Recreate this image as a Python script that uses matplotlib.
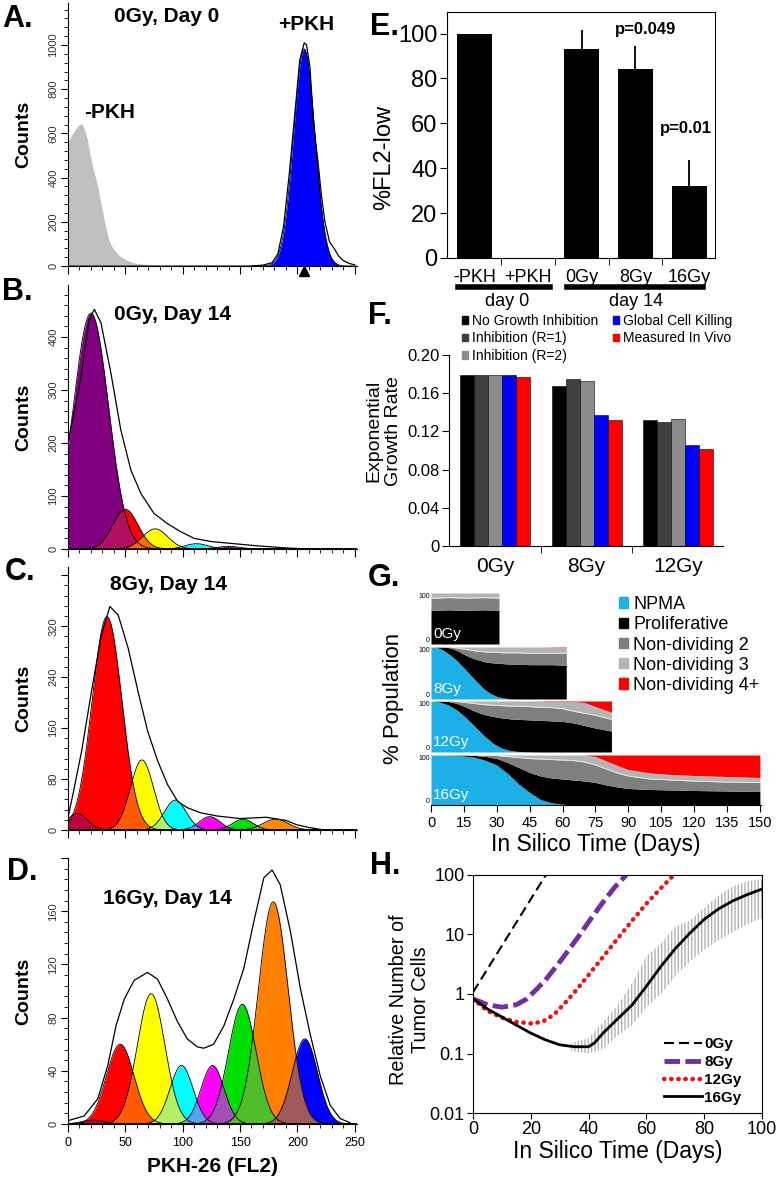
import numpy as np
import matplotlib.pyplot as plt
from matplotlib.lines import Line2D
from matplotlib.patches import Patch
from matplotlib.ticker import MultipleLocator

plt.rcParams['font.family'] = ['Liberation Sans', 'DejaVu Sans']

# ---------------- data ----------------
# A: 0Gy, day 0 (gray = unstained, blue = stained)
a_neg_x = [0, 3, 6, 9, 12, 15, 17, 19, 21.5, 24, 26, 28, 30, 32, 34, 36, 38, 40, 43, 46, 50, 55, 60, 70, 80, 100, 130]
a_neg_y = [560, 590, 615, 635, 645, 610, 570, 510, 450, 400, 360, 300, 250, 195, 150, 115, 90, 75, 56, 42, 30, 18, 12, 6, 3, 1, 0]
a_pos_peak = [(206, 982, 9.3)]
a_pos_x = [160, 170, 178, 183, 188, 193, 198, 202, 206, 208, 211, 214, 218, 221, 224, 228, 232, 236, 240, 245, 250]
a_pos_y = [0, 4, 15, 55, 180, 420, 700, 930, 1010, 1000, 900, 650, 470, 320, 200, 110, 80, 45, 25, 12, 5]

# B-D: generation peaks (center, height, width) and measured envelope
b_peaks = [(20, 445, 15.3), (50, 75, 11), (76, 38, 11), (112, 10, 10), (140, 5, 10)]
b_colors = ['#800080', '#ff0000', '#ffff00', '#00ffff', '#5b1a7b']
b_mix = ['#b0105e', '#ff6a00', '#b4f064', '#3c64b4']
b_env_x = [0, 11, 18.5, 23, 28.7, 37.4, 46, 54.8, 63.5, 75, 86.6, 98, 110, 125, 145, 165, 190, 210]
b_env_y = [200, 320, 433, 452, 427, 332, 225, 149, 105, 67, 48, 33, 20, 14, 10, 6, 2, 0]

c_peaks = [(8, 26, 9), (34, 335, 13), (64.5, 110, 10), (93.5, 47, 9.5), (123.5, 21, 9), (152.5, 17, 9), (181, 17, 11)]
c_colors = ['#9a0a5a', '#ff0000', '#ffff00', '#00ffff', '#ff00ff', '#00e000', '#ff8c00']
c_mix = ['#c00040', '#ff5a00', '#b4f064', '#5aa0f0', '#a050b4', '#50be28']
c_env_x = [0, 4.3, 11.9, 20.5, 29.2, 36.5, 43.7, 52.4, 61, 69.5, 78.3, 86.9, 95.6, 104, 115.6, 130, 150, 173, 190, 200, 210, 220]
c_env_y = [20, 56, 124, 218, 307, 351, 338, 286, 218, 155, 108, 71, 45, 35, 27, 22, 18, 20, 15, 8, 4, 1]

d_peaks = [(22, 3, 10), (45.5, 60, 12), (72.5, 98, 12), (99, 44, 10), (126, 44, 10), (152, 90, 12), (179, 167, 13), (206.5, 64, 11)]
d_colors = ['#800080', '#ff0000', '#ffff00', '#00ffff', '#ff00ff', '#00e000', '#ff8000', '#0000ff']
d_mix = ['#c00040', '#ff5a00', '#b4f064', '#5aa0f0', '#a050b4', '#50be28', '#a05a5a']
d_env_x = [0, 14, 26, 34.7, 41.9, 49.1, 57.7, 69.3, 78, 86.7, 95.4, 104, 112.7, 118.5, 127, 136, 144.6, 153.3, 162, 170.7, 178, 185, 193.9, 202.6, 211.3, 220, 228.7, 237.4, 246]
d_env_y = [2.5, 6, 19, 44, 74, 94, 108, 114, 109, 94, 77, 64, 58, 57, 60, 74, 94, 117, 152, 185, 191, 180, 145, 102, 67, 36, 14, 4, 1]

# E: %FL2-low
e_groups = ['-PKH', '+PKH', '0Gy', '8Gy', '16Gy']
e_vals = [100, 0, 93.3, 84.1, 32.1]
e_err = [0, 0, 8.2, 10.4, 11.6]

# F: exponential growth rate
f_doses = ['0Gy', '8Gy', '12Gy']
f_models = ['No Growth Inhibition', 'Inhibition (R=1)', 'Inhibition (R=2)', 'Global Cell Killing', 'Measured In Vivo']
f_colors = ['#000000', '#404040', '#8c8c8c', '#0000ff', '#ff0000']
f_no_inhib = [0.179, 0.168, 0.132]
f_inhib_r1 = [0.179, 0.1746, 0.1297]
f_inhib_r2 = [0.179, 0.1725, 0.1328]
f_global = [0.179, 0.137, 0.1056]
f_vivo = [0.177, 0.132, 0.102]

# G: population fractions (cumulative tops, %)
g_days_0 = [0, 8, 16, 24, 31]
g_npma_0 = [0, 0, 0, 0, 0]
g_prolif_0 = [66, 67, 66, 67, 66]
g_nd2_0 = [90, 91, 90, 91, 90]
g_nd3_0 = [100, 100, 100, 100, 100]

g_days_8 = [0, 3, 6, 9, 12, 15, 18, 21, 24, 27, 30, 33, 36, 40, 45, 50, 55, 61.7]
g_npma_8 = [100, 99, 93, 84, 73, 60, 46, 33, 20, 11, 5, 2, 0.5, 0, 0, 0, 0, 0]
g_prolif_8 = [100, 100, 100, 98, 93, 86, 80, 76, 72, 70, 69, 68, 67, 67, 66, 66, 66, 65]
g_nd2_8 = [100, 100, 100, 100, 98, 96, 94, 92, 91, 90, 90, 89, 89, 89, 88, 88, 88, 88]
g_nd3_8 = [100, 100, 100, 100, 100, 100, 100, 100, 100, 100, 100, 100, 100, 100, 100, 100, 99.5, 99]

g_days_12 = [0, 4, 8, 12, 16, 20, 24, 28, 32, 36, 40, 45, 50, 55, 60, 65, 70, 75, 82.3]
g_npma_12 = [100, 98, 92, 82, 67, 50, 33, 18, 8, 3, 1, 0.3, 0, 0, 0, 0, 0, 0, 0]
g_prolif_12 = [100, 100, 99, 95, 88, 80, 74, 70, 67, 65, 64, 63, 62, 61, 60, 57, 52, 47, 41]
g_nd2_12 = [100, 100, 100, 99, 97, 95, 93, 92, 91, 90, 90, 89, 88, 87, 85, 80, 76, 72, 64]
g_nd3_12 = [100, 100, 100, 100, 100, 100, 100, 100, 100, 100, 100, 100, 99.5, 99, 99, 99, 97, 89, 78]

g_days_16 = [0, 10, 15, 20, 25, 30, 35, 40, 45, 50, 55, 60, 65, 70, 75, 80, 85, 90, 100, 110, 120, 135, 150]
g_npma_16 = [100, 99.5, 98, 95.5, 89, 80, 63, 42, 25, 11, 4.5, 1.5, 0.5, 0, 0, 0, 0, 0, 0, 0, 0, 0, 0]
g_prolif_16 = [100, 100, 100, 99, 97, 93, 85, 75, 65, 58, 54, 52, 50, 48, 45, 40, 36, 33, 31, 30, 29, 28, 27]
g_nd2_16 = [100, 100, 100, 100, 99.5, 99, 97, 95, 93, 92, 91, 90, 89, 86, 80, 72, 64, 58, 52, 50, 48, 46, 45]
g_nd3_16 = [100, 100, 100, 100, 100, 100, 100, 100, 100, 100, 100, 100, 100, 100, 97, 88, 79, 71, 64, 61, 59, 57, 55]

# H: relative number of tumor cells
h_days_0 = [0, 25.2]
h_cells_0 = [1.07, 100]
h_days_8 = [0, 5, 10, 15, 18.5, 22, 25, 28, 31, 34, 37, 41, 45, 49, 53]
h_cells_8 = [0.83, 0.66, 0.60, 0.66, 0.82, 1.2, 1.7, 2.6, 4.0, 6.3, 10, 19, 35, 62, 100]
h_days_12 = [0, 5, 10, 15, 20, 24, 28, 32, 36, 40, 45, 50, 55, 60, 65, 69.5]
h_cells_12 = [0.83, 0.52, 0.40, 0.34, 0.32, 0.34, 0.45, 0.72, 1.2, 2.1, 4.2, 8.5, 17, 33, 60, 100]
h_days_16 = [0, 5, 10, 15, 20, 25, 30, 35, 40, 42, 45, 50, 55, 60, 65, 70, 75, 80, 85, 90, 95, 100]
h_cells_16 = [0.83, 0.56, 0.41, 0.30, 0.22, 0.17, 0.14, 0.13, 0.13, 0.15, 0.22, 0.38, 0.65, 1.35, 2.9, 5.8, 10.5, 18, 27, 37, 47, 58]
h_err_days = [34, 40, 45, 50, 55, 60, 65, 70, 75, 80, 85, 90, 95, 100]
h_err_lo = [0.11, 0.10, 0.12, 0.2, 0.3, 0.6, 1.0, 2.0, 3.5, 5.6, 8, 11, 15, 19]
h_err_hi = [0.15, 0.18, 0.34, 0.64, 1.5, 4.3, 7, 13.5, 17, 28, 45, 65, 78, 86]

# ---------------- figure ----------------
W, H = 778, 1180
fig = plt.figure(figsize=(W / 100, H / 100), dpi=100)


def box(left, top, right, bottom):
    return fig.add_axes([left / W, 1 - bottom / H, (right - left) / W, (bottom - top) / H])


def ftxt(x, y, s, **kw):
    kw.setdefault('ha', 'center')
    kw.setdefault('va', 'center')
    fig.text(x / W, 1 - y / H, s, **kw)


def fline(x0, x1, y, lw):
    fig.add_artist(Line2D([x0 / W, x1 / W], [1 - y / H, 1 - y / H], color='k', lw=lw))


grid = np.linspace(0, 252, 1200)


def peak(c, h, s):
    return h * np.exp(-0.5 * ((grid - c) / s) ** 2)


def style_hist(ax, ymax, major, minor, labels, show_x=False):
    ax.set_xlim(0, 252)
    ax.set_ylim(0, ymax)
    for s in ['top', 'right']:
        ax.spines[s].set_visible(False)
    ax.xaxis.set_major_locator(MultipleLocator(50))
    ax.xaxis.set_minor_locator(MultipleLocator(10))
    ax.set_yticks([major * i for i in range(len(labels))])
    ax.set_yticklabels(labels)
    ax.yaxis.set_minor_locator(MultipleLocator(minor))
    ax.tick_params(axis='y', which='major', length=5, labelsize=8, labelcolor='#333333', pad=2)
    ax.tick_params(axis='y', which='minor', length=3)
    ax.tick_params(axis='x', which='major', length=6, labelsize=9, pad=3)
    ax.tick_params(axis='x', which='minor', length=3)
    plt.setp(ax.get_yticklabels(), rotation=90, va='center')
    if not show_x:
        ax.set_xticklabels([])
    ax.set_ylabel('Counts', fontsize=14, fontweight='bold')
    ax.yaxis.set_label_coords(-0.125, 0.5)


def draw_peaks(ax, peaks, colors, mixes, env_x, env_y):
    curves = [peak(*p) for p in peaks]
    for g, col in zip(curves, colors):
        ax.fill_between(grid, 0, g, color=col, lw=0)
    for g1, g2, col in zip(curves[:-1], curves[1:], mixes):
        ax.fill_between(grid, 0, np.minimum(g1, g2), color=col, lw=0)
    for g in curves:
        ax.plot(grid, g, color='k', lw=0.6)
    ax.plot(env_x, env_y, color='k', lw=0.9)


# A
ax_a = box(68, 3, 357, 266)
ax_a.fill_between(a_neg_x, 0, a_neg_y, color='#c0c0c0', lw=0)
draw_peaks(ax_a, a_pos_peak, ['#0000ff'], [], a_pos_x, a_pos_y)
style_hist(ax_a, 1190, 200, 40, ['0', '200', '400', '600', '800', '1000'])
ax_a.plot([206], [-0.02], marker='^', color='k', ms=7, transform=ax_a.get_xaxis_transform(), clip_on=False)
ftxt(167, 17, '0Gy, Day 0', fontsize=15, fontweight='bold')
ftxt(306, 25, '+PKH', fontsize=15, fontweight='bold')
ftxt(110, 113, '-PKH', fontsize=15, fontweight='bold')

# B
ax_b = box(68, 285, 357, 549)
draw_peaks(ax_b, b_peaks, b_colors, b_mix, b_env_x, b_env_y)
style_hist(ax_b, 498, 100, 20, ['0', '100', '200', '300', '400'])
ftxt(173, 315, '0Gy, Day 14', fontsize=15, fontweight='bold')

# C
ax_c = box(68, 567, 357, 830)
draw_peaks(ax_c, c_peaks, c_colors, c_mix, c_env_x, c_env_y)
style_hist(ax_c, 413, 80, 16, ['0', '80', '160', '240', '320', ''])
ftxt(168, 585, '8Gy, Day 14', fontsize=15, fontweight='bold')

# D
ax_d = box(68, 858, 357, 1124)
draw_peaks(ax_d, d_peaks, d_colors, d_mix, d_env_x, d_env_y)
style_hist(ax_d, 200, 40, 8, ['0', '40', '80', '120', '160', ''], show_x=True)
ftxt(167, 898, '16Gy, Day 14', fontsize=15, fontweight='bold')
ax_d.set_xlabel('PKH-26 (FL2)', fontsize=15, fontweight='bold', labelpad=6)

# E
ax_e = box(447, 12, 715, 258)
xe = np.arange(len(e_groups))
ax_e.bar(xe, e_vals, width=0.65, color='k')
ax_e.errorbar(xe, e_vals, yerr=[np.zeros(len(e_err)), e_err], fmt='none', ecolor='k', elinewidth=1.3, capsize=0)
ax_e.set_xlim(-0.507, 4.48)
ax_e.set_ylim(0, 109.6)
ax_e.set_xticks(xe)
ax_e.set_xticklabels(e_groups)
ax_e.set_xticks([0.5, 1.5, 2.5, 3.5], minor=True)
ax_e.set_yticks(range(0, 101, 20))
ax_e.tick_params(axis='x', which='major', length=0, labelsize=13, pad=8)
ax_e.tick_params(axis='x', which='minor', length=5)
ax_e.tick_params(axis='y', length=5, labelsize=17, pad=2)
ax_e.text(3.18, 102, 'p=0.049', fontsize=12, fontweight='bold', ha='center', va='center')
ax_e.text(3.94, 57.8, 'p=0.01', fontsize=12, fontweight='bold', ha='center', va='center')
ftxt(384, 158, '%FL2-low', fontsize=17, rotation=90)
fline(458, 550, 287, 4)
fline(567, 703, 287, 4)
ftxt(507, 301, 'day 0', fontsize=13)
ftxt(636, 301, 'day 14', fontsize=13)

# F
ax_f = box(449, 355, 723, 546)
xf = np.arange(len(f_doses))
f_series = [f_no_inhib, f_inhib_r1, f_inhib_r2, f_global, f_vivo]
bw = 0.154
for i, (vals, col, name) in enumerate(zip(f_series, f_colors, f_models)):
    ax_f.bar(xf + (i - 2) * bw, vals, width=bw, color=col, edgecolor='k', lw=0.4, label=name)
ax_f.set_xlim(-0.506, 2.49)
ax_f.set_ylim(0, 0.2)
ax_f.set_xticks(xf)
ax_f.set_xticklabels(f_doses)
ax_f.set_xticks([0.5, 1.5], minor=True)
ax_f.set_yticks([0, 0.04, 0.08, 0.12, 0.16, 0.20])
ax_f.set_yticklabels(['0', '0.04', '0.08', '0.12', '0.16', '0.20'])
ax_f.tick_params(axis='x', which='major', length=0, labelsize=15, pad=8)
ax_f.tick_params(axis='x', which='minor', length=5)
ax_f.tick_params(axis='y', length=5, labelsize=12, pad=2)
for s in ['top', 'right']:
    ax_f.spines[s].set_visible(False)
fig.legend(handles=[Patch(color=c) for c in f_colors], labels=f_models, loc='upper left',
           bbox_to_anchor=(462 / W, 1 - 314 / H), ncol=2, frameon=False, fontsize=10,
           handlelength=0.45, handleheight=0.45, handletextpad=0.3, labelspacing=0.25,
           columnspacing=1.0, borderpad=0, borderaxespad=0)
ftxt(384, 431, 'Exponential\nGrowth Rate', fontsize=14, rotation=90, linespacing=1.2)

# G
c_npma, c_nd2, c_nd3 = '#1cb0e6', '#7f7f7f', '#b4b4b4'
g_rows = [
    ('0Gy', (593, 644), g_days_0, g_npma_0, g_prolif_0, g_nd2_0, g_nd3_0),
    ('8Gy', (647, 699), g_days_8, g_npma_8, g_prolif_8, g_nd2_8, g_nd3_8),
    ('12Gy', (701, 752), g_days_12, g_npma_12, g_prolif_12, g_nd2_12, g_nd3_12),
    ('16Gy', (755, 805), g_days_16, g_npma_16, g_prolif_16, g_nd2_16, g_nd3_16),
]
for k, (lab, (top, bot), d, npma, prol, nd2, nd3) in enumerate(g_rows):
    ax = box(431, top, 761, bot)
    ax.fill_between(d, 0, npma, color=c_npma, lw=0)
    ax.fill_between(d, npma, prol, color='k', lw=0)
    ax.fill_between(d, prol, nd2, color=c_nd2, lw=0)
    ax.fill_between(d, nd2, nd3, color=c_nd3, lw=0)
    ax.fill_between(d, nd3, 100, color='#ff0000', lw=0)
    ax.plot(d, nd2, color='#e8e8e8', lw=0.7)
    ax.set_xlim(0, 150.5)
    ax.set_ylim(0, 100)
    ax.set_yticks([0, 100])
    ax.set_yticklabels(['0', '100'])
    ax.tick_params(axis='y', length=0, labelsize=5, pad=1)
    lo_lab, hi_lab = ax.get_yticklabels()
    lo_lab.set_va('bottom')
    hi_lab.set_va('top')
    for s in ['top', 'right', 'left', 'bottom']:
        ax.spines[s].set_visible(False)
    ax.text(0.006, 0.06, lab, color='white', fontsize=11, transform=ax.transAxes, va='bottom')
    if k < 3:
        ax.set_xticks([])
    else:
        ax.spines['bottom'].set_visible(True)
        ax.set_xticks(range(0, 151, 15))
        ax.tick_params(axis='x', length=5, labelsize=10.5, pad=3)
        ax.set_xlabel('In Silico Time (Days)', fontsize=16.5, labelpad=2)
g_labels = ['NPMA', 'Proliferative', 'Non-dividing 2', 'Non-dividing 3', 'Non-dividing 4+']
fig.legend(handles=[Patch(color=c) for c in [c_npma, '#000000', c_nd2, c_nd3, '#ff0000']], labels=g_labels,
           loc='upper left', bbox_to_anchor=(619 / W, 1 - 596 / H), frameon=False, fontsize=13,
           handlelength=0.5, handleheight=0.5, handletextpad=0.3, labelspacing=0.18,
           borderpad=0, borderaxespad=0)
ftxt(393, 698, '% Population', fontsize=16, rotation=90)

# H
ax_h = box(473, 875, 762, 1113)
ax_h.fill_between(h_err_days, h_err_lo, h_err_hi, facecolor='none', edgecolor='#b0b0b0', hatch='|||||', lw=0)
ax_h.plot(h_days_0, h_cells_0, color='k', lw=1.5, dashes=(4.8, 2.4), label='0Gy')
ax_h.plot(h_days_8, h_cells_8, color='#7030a0', lw=3.5, dashes=(3.2, 1.1), label='8Gy')
ax_h.plot(h_days_12, h_cells_12, color='#ee1111', lw=3.2, dashes=(0.1, 1.5), dash_capstyle='round', label='12Gy')
ax_h.plot(h_days_16, h_cells_16, color='k', lw=2, label='16Gy')
ax_h.set_yscale('log')
ax_h.set_xlim(0, 100)
ax_h.set_ylim(0.01, 100)
ax_h.set_yticks([0.01, 0.1, 1, 10, 100])
ax_h.set_yticklabels(['0.01', '0.1', '1', '10', '100'])
ax_h.minorticks_off()
ax_h.set_xticks(range(0, 101, 20))
ax_h.tick_params(axis='both', length=4, labelsize=13, pad=2)
ax_h.set_xlabel('In Silico Time (Days)', fontsize=16.5, labelpad=1)
leg = ax_h.legend(loc='lower right', bbox_to_anchor=(0.93, 0.035), frameon=False,
                  handlelength=2.5, handletextpad=0.15, labelspacing=0.25,
                  prop={'size': 11, 'weight': 'bold'}, borderpad=0, borderaxespad=0)
ftxt(410, 1000, 'Relative Number of\nTumor Cells', fontsize=14.3, rotation=90, linespacing=1.2)

# panel letters
for lab, x, y in [('A.', 2, 19), ('B.', 2, 292), ('C.', 5, 572), ('D.', 7, 872),
                  ('E.', 370, 27), ('F.', 368, 316), ('G.', 368, 578), ('H.', 370, 866)]:
    ftxt(x, y, lab, fontsize=22, fontweight='bold', ha='left')

fig.savefig('out.png', dpi=100)
